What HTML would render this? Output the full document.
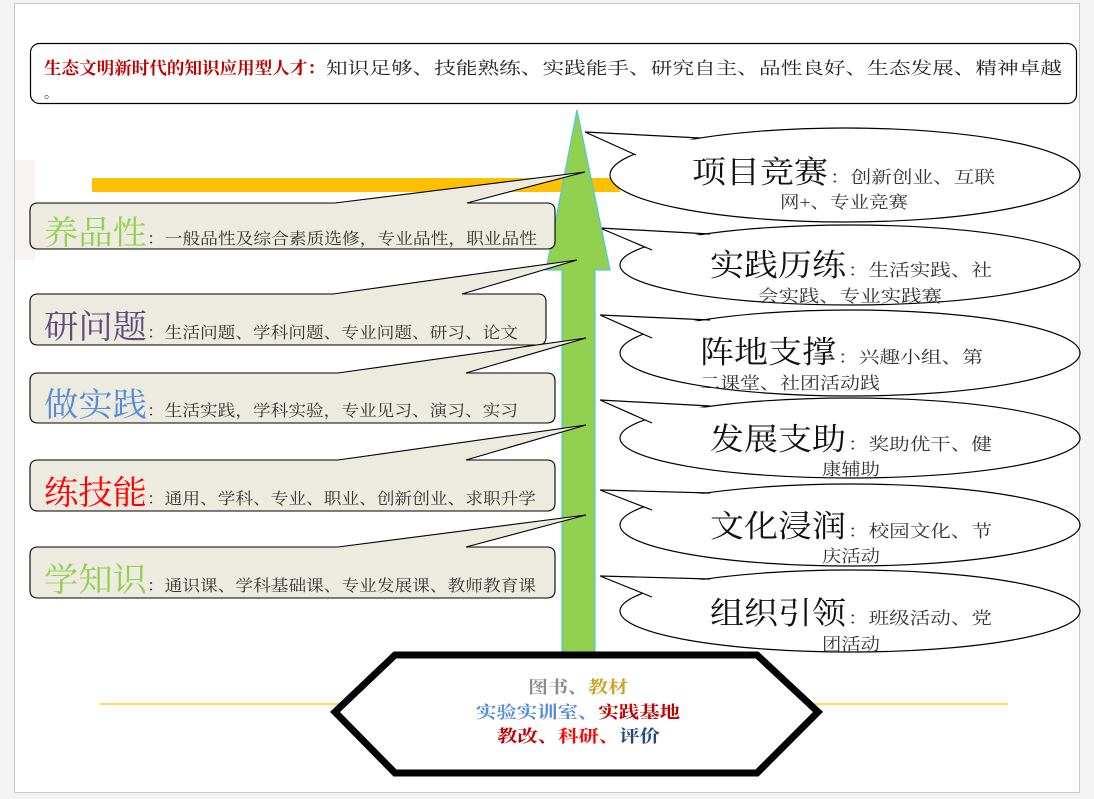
<!DOCTYPE html>
<html><head><meta charset="utf-8"><style>
html,body{margin:0;padding:0;background:#f3f3f3;}
svg{display:block;font-family:"Liberation Serif","Noto Serif CJK SC","Noto Sans CJK SC",serif;}
</style></head><body>
<svg width="1094" height="799" viewBox="0 0 1094 799" xmlns="http://www.w3.org/2000/svg">
<rect x="0" y="0" width="1094" height="799" fill="#f3f3f3"/>
<rect x="14.5" y="3.5" width="1065" height="789" fill="#fff" stroke="#c8c8c8"/>
<rect x="15" y="160" width="20" height="100" fill="#fbf3f3"/>
<rect x="92" y="178" width="528" height="14" fill="#FFC000"/>
<line x1="100" y1="704" x2="1008" y2="704" stroke="#FFC000" stroke-width="1.3"/>
<rect x="30.5" y="43.5" width="1046" height="60" rx="9" fill="#fff" stroke="#000" stroke-width="1.2"/>
<text x="44" y="74" font-size="17" fill="#C00000" font-weight="bold" textLength="281" lengthAdjust="spacingAndGlyphs">生态文明新时代的知识应用型人才：</text>
<text x="326" y="74" font-size="17" fill="#222" textLength="736" lengthAdjust="spacingAndGlyphs">知识足够、技能熟练、实践能手、研究自主、品性良好、生态发展、精神卓越</text>
<text x="44" y="98" font-size="14" fill="#222">。</text>
<!-- ellipses -->
<g fill="#fff" stroke="#000" stroke-width="1.2">
<ellipse cx="845" cy="175" rx="235" ry="47"/>
<ellipse cx="850" cy="265" rx="230" ry="40"/>
<ellipse cx="850" cy="353" rx="230" ry="43"/>
<ellipse cx="850" cy="438" rx="230" ry="40"/>
<ellipse cx="850" cy="525" rx="230" ry="41"/>
<ellipse cx="850" cy="611" rx="230" ry="41"/>
</g>
<g fill="#fff" stroke="#000" stroke-width="1.2" stroke-linejoin="miter">
<polygon points="700,140 585,132 636,155 620,170" stroke="none"/>
<polyline points="700,138 585,132 636,155" fill="none"/>
<polygon points="710,236 600,228 652,250 640,262" stroke="none"/>
<polyline points="710,234 600,228 652,250" fill="none"/>
<polygon points="710,322 600,315 652,338 640,350" stroke="none"/>
<polyline points="710,320 600,315 652,338" fill="none"/>
<polygon points="710,408 600,400 652,423 640,435" stroke="none"/>
<polyline points="710,406 600,400 652,423" fill="none"/>
<polygon points="710,494 600,490 652,510 640,520" stroke="none"/>
<polyline points="710,493 600,490 652,510" fill="none"/>
<polygon points="710,580 600,576 652,597 640,607" stroke="none"/>
<polyline points="710,579 600,576 652,597" fill="none"/>
</g>
<g fill="#111" font-size="31">
<text x="692" y="183" textLength="136" lengthAdjust="spacingAndGlyphs">项目竞赛</text>
<text x="710" y="276" textLength="136" lengthAdjust="spacingAndGlyphs">实践历练</text>
<text x="700" y="363" textLength="136" lengthAdjust="spacingAndGlyphs">阵地支撑</text>
<text x="710" y="450" textLength="136" lengthAdjust="spacingAndGlyphs">发展支助</text>
<text x="710" y="537" textLength="136" lengthAdjust="spacingAndGlyphs">文化浸润</text>
<text x="710" y="624" textLength="136" lengthAdjust="spacingAndGlyphs">组织引领</text>
</g>
<g fill="#333" font-size="17">
<text x="830" y="183" textLength="165" lengthAdjust="spacingAndGlyphs">：创新创业、互联</text>
<text x="780" y="208" textLength="128" lengthAdjust="spacingAndGlyphs">网+、专业竞赛</text>
<text x="848" y="276" textLength="144" lengthAdjust="spacingAndGlyphs">：生活实践、社</text>
<text x="758" y="302" textLength="184" lengthAdjust="spacingAndGlyphs">会实践、专业实践赛</text>
<text x="838" y="363" textLength="145" lengthAdjust="spacingAndGlyphs">：兴趣小组、第</text>
<text x="700" y="389" textLength="180" lengthAdjust="spacingAndGlyphs">二课堂、社团活动践</text>
<text x="848" y="450" textLength="144" lengthAdjust="spacingAndGlyphs">：奖助优干、健</text>
<text x="822" y="475" textLength="58" lengthAdjust="spacingAndGlyphs">康辅助</text>
<text x="848" y="537" textLength="144" lengthAdjust="spacingAndGlyphs">：校园文化、节</text>
<text x="822" y="562" textLength="58" lengthAdjust="spacingAndGlyphs">庆活动</text>
<text x="848" y="624" textLength="144" lengthAdjust="spacingAndGlyphs">：班级活动、党</text>
<text x="822" y="650" textLength="58" lengthAdjust="spacingAndGlyphs">团活动</text>
</g>
<path d="M577,110 L610,270 L595,270 L595,652 L562,652 L562,270 L546,270 Z" fill="#92D050" stroke="#4BC8E0" stroke-width="1.2"/>
<g fill="#EDEAE0" stroke="#000" stroke-width="1.1">
<path d="M38,203 L335,203 L585,172 L467,203 L547,203 Q555,203 555,211 L555,241 Q555,249 547,249 L38,249 Q30,249 30,241 L30,211 Q30,203 38,203 Z"/>
<path d="M38,294 L333,294 L577,260 L462,294 L538,294 Q546,294 546,302 L546,337 Q546,345 538,345 L38,345 Q30,345 30,337 L30,302 Q30,294 38,294 Z"/>
<path d="M38,373 L338,373 L586,338 L466,373 L547,373 Q555,373 555,381 L555,415 Q555,423 547,423 L38,423 Q30,423 30,415 L30,381 Q30,373 38,373 Z"/>
<path d="M38,460 L338,460 L586,425 L466,460 L547,460 Q555,460 555,468 L555,503 Q555,511 547,511 L38,511 Q30,511 30,503 L30,468 Q30,460 38,460 Z"/>
<path d="M38,547 L338,547 L586,515 L466,547 L547,547 Q555,547 555,555 L555,590 Q555,598 547,598 L38,598 Q30,598 30,590 L30,555 Q30,547 38,547 Z"/>
</g>
<g font-size="33">
<text x="44" y="244" fill="#92D050" textLength="103" lengthAdjust="spacingAndGlyphs">养品性</text>
<text x="44" y="338" fill="#604A7B" textLength="103" lengthAdjust="spacingAndGlyphs">研问题</text>
<text x="44" y="416" fill="#558ED5" textLength="103" lengthAdjust="spacingAndGlyphs">做实践</text>
<text x="44" y="504" fill="#FF0000" textLength="103" lengthAdjust="spacingAndGlyphs">练技能</text>
<text x="44" y="591" fill="#92D050" textLength="103" lengthAdjust="spacingAndGlyphs">学知识</text>
</g>
<g font-size="16" fill="#333">
<text x="147" y="244" textLength="390" lengthAdjust="spacingAndGlyphs">：一般品性及综合素质选修，专业品性，职业品性</text>
<text x="147" y="338" textLength="371" lengthAdjust="spacingAndGlyphs">：生活问题、学科问题、专业问题、研习、论文</text>
<text x="147" y="416" textLength="371" lengthAdjust="spacingAndGlyphs">：生活实践，学科实验，专业见习、演习、实习</text>
<text x="147" y="504" textLength="389" lengthAdjust="spacingAndGlyphs">：通用、学科、专业、职业、创新创业、求职升学</text>
<text x="147" y="591" textLength="389" lengthAdjust="spacingAndGlyphs">：通识课、学科基础课、专业发展课、教师教育课</text>
</g>
<polygon points="335,712 395,655 757,655 818,712 757,773 395,773" fill="#fff" stroke="#000" stroke-width="7" stroke-linejoin="miter"/>
<g font-size="17" font-weight="bold">
<text x="528" y="693" textLength="100" lengthAdjust="spacingAndGlyphs"><tspan fill="#8c8c8c">图书、</tspan><tspan fill="#C9A227">教材</tspan></text>
<text x="476" y="718" textLength="204" lengthAdjust="spacingAndGlyphs"><tspan fill="#558ED5">实验实训室、</tspan><tspan fill="#C00000">实践基地</tspan></text>
<text x="497" y="742" textLength="163" lengthAdjust="spacingAndGlyphs"><tspan fill="#C00000">教改、</tspan><tspan fill="#FF0000">科研、</tspan><tspan fill="#1F497D">评价</tspan></text>
</g>
</svg>
</body></html>
